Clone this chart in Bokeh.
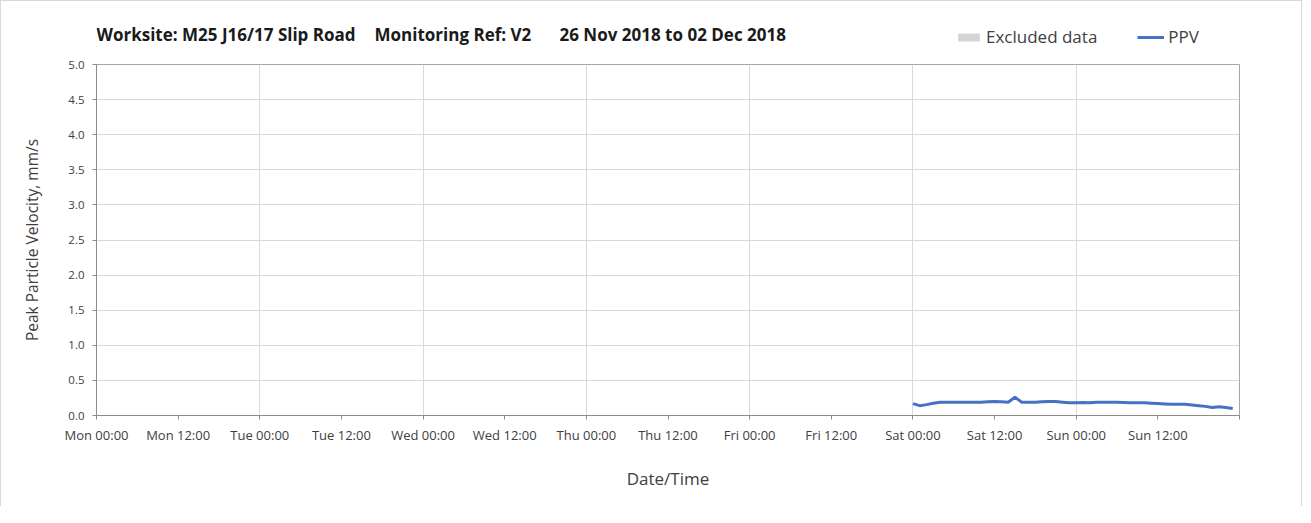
from bokeh.plotting import figure
from bokeh.layouts import column
from bokeh.models import (FixedTicker, Legend, LegendItem, ColumnDataSource, Range1d)
from bokeh.core.properties import value
from bokeh.embed import file_html
from bokeh.resources import INLINE

# ---- data ----
day_names = ["Mon", "Tue", "Wed", "Thu", "Fri", "Sat", "Sun"]
tick_hours = list(range(0, 169, 12))
tick_labels = [f"{day_names[h // 24]} {h % 24:02d}:00" if h < 168 else "" for h in tick_hours]
y_ticks = [0.0, 0.5, 1.0, 1.5, 2.0, 2.5, 3.0, 3.5, 4.0, 4.5, 5.0]

# PPV readings, hourly from Sat 00:00 (hour 120 of the week) to Sun 23:00
ppv_hours = list(range(120, 168))
ppv_values = [0.17, 0.14, 0.155, 0.175, 0.19, 0.19, 0.19, 0.19, 0.19, 0.19,
              0.19, 0.195, 0.20, 0.195, 0.19, 0.26, 0.19, 0.19, 0.19, 0.195,
              0.20, 0.20, 0.19, 0.18, 0.18, 0.185, 0.18, 0.19, 0.19, 0.19,
              0.19, 0.185, 0.18, 0.18, 0.18, 0.175, 0.17, 0.165, 0.16, 0.16,
              0.16, 0.15, 0.14, 0.13, 0.115, 0.125, 0.115, 0.10]
excluded_start = []
excluded_end = []

title_parts = ["Worksite: M25 J16/17 Slip Road", "Monitoring Ref: V2", "26 Nov 2018 to 02 Dec 2018"]

FONT = "Open Sans"
TXT = "#404040"
W = 1300
BL, BR = 95, 62
FW = W - BL - BR
LINE_COLOR = "#4472C4"
EXCL_COLOR = "#d4d4d4"

# ---- header (title + legend) ----
HH = 54
hdr = figure(width=W, height=HH, x_range=Range1d(0, FW), y_range=Range1d(HH, 0),
             x_axis_type=None, y_axis_type=None, output_backend="svg",
             toolbar_location=None, min_border_left=BL, min_border_right=BR,
             min_border_top=0, min_border_bottom=0, outline_line_color=None,
             background_fill_color="white", border_fill_color="white")
hdr.grid.visible = False
hdr.text(x=[0, 278, 463], y=[33, 33, 33], text=title_parts,
         text_font=value(FONT), text_font_style="bold", text_font_size="17px",
         text_color="#1a1a1a", text_baseline="middle", text_align="left")
# legend swatches (renderers hidden; only their legend glyphs are shown)
h_excl = hdr.varea(x=ppv_hours, y1=0, y2=ppv_values, fill_color=EXCL_COLOR, visible=False)
h_line = hdr.line(ppv_hours, ppv_values, line_color=LINE_COLOR, line_width=3, visible=False)
legend = Legend(items=[LegendItem(label="Excluded data", renderers=[h_excl]),
                       LegendItem(label="PPV", renderers=[h_line])],
                location=(859, 7), orientation="horizontal",
                border_line_color=None, background_fill_alpha=0,
                label_text_font=FONT, label_text_font_size="17px",
                label_text_color=TXT, glyph_width=27, glyph_height=10,
                label_standoff=4, spacing=40, padding=0, margin=0)
hdr.add_layout(legend)

# ---- main chart ----
p = figure(width=W, height=451, x_range=(0, 168), y_range=(0, 5),
           output_backend="svg", toolbar_location=None,
           min_border_left=BL, min_border_right=BR, min_border_top=9, min_border_bottom=91,
           background_fill_color="white", border_fill_color="white",
           outline_line_color="#a6a6a6", outline_line_width=1)

p.quad(left="l", right="r", bottom=0, top=5,
       source=ColumnDataSource(dict(l=excluded_start, r=excluded_end)),
       fill_color=EXCL_COLOR, line_color=None)
p.line(ppv_hours, ppv_values, line_color=LINE_COLOR, line_width=3)

p.xaxis.ticker = FixedTicker(ticks=tick_hours)
p.xaxis.major_label_overrides = {h: lab for h, lab in zip(tick_hours, tick_labels)}
p.yaxis.ticker = FixedTicker(ticks=y_ticks)
p.yaxis.major_label_overrides = {t: f"{t:.1f}" for t in y_ticks}
for ax in (p.xaxis[0], p.yaxis[0]):
    ax.axis_line_color = "#8c8c8c"
    ax.major_tick_line_color = "#8c8c8c"
    ax.major_tick_out = 4
    ax.major_tick_in = 0
    ax.minor_tick_line_color = None
    ax.major_label_text_font = FONT
    ax.major_label_text_color = TXT
    ax.axis_label_text_font = FONT
    ax.axis_label_text_font_style = "normal"
    ax.axis_label_text_color = TXT
p.xaxis.major_label_standoff = 6
p.yaxis.major_label_standoff = 8
p.xaxis.major_label_text_font_size = "13px"
p.yaxis.major_label_text_font_size = "11.5px"
p.xaxis.axis_label = "Date/Time"
p.xaxis.axis_label_text_font_size = "17px"
p.xaxis.axis_label_standoff = 20
p.yaxis.axis_label = "Peak Particle Velocity, mm/s"
p.yaxis.axis_label_text_font_size = "15.5px"
p.yaxis.axis_label_standoff = 22

p.xgrid.ticker = FixedTicker(ticks=list(range(24, 168, 24)))
p.ygrid.ticker = FixedTicker(ticks=y_ticks)
p.grid.grid_line_color = "#d9d9d9"
p.grid.grid_line_width = 1

layout = column(hdr, p, spacing=0)
layout.styles = {"border": "1px solid #d9d9d9", "border-bottom": "none"}

open("out.html", "w").write(file_html(layout, INLINE))
